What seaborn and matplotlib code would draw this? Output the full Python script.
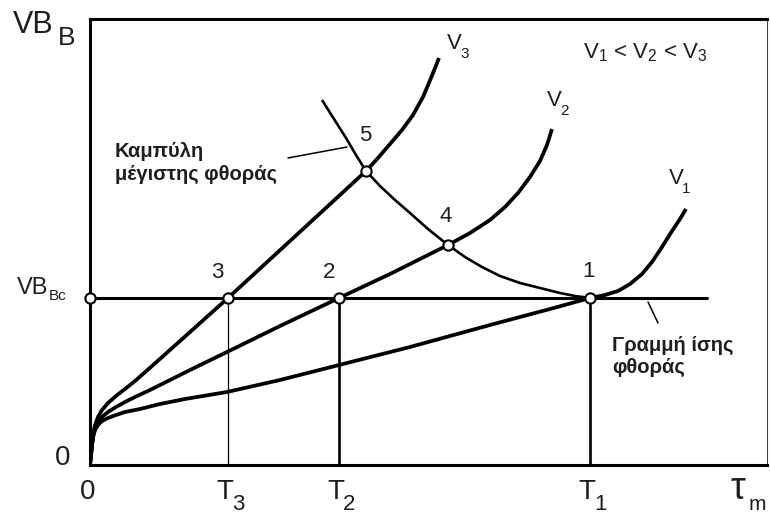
import matplotlib
matplotlib.use("Agg")
import matplotlib.pyplot as plt
import seaborn as sns

# Flank-wear growth VB_B versus machining time for three cutting speeds
v1_t = [0, 1, 2, 3, 5, 8, 12, 18, 26, 35, 50, 70, 95, 137, 190, 249, 320, 400, 460,
        500, 515, 528, 540, 552, 562, 572, 582, 590, 596]
v1_w = [0, 10, 20, 28, 35, 40, 44, 47, 50, 53, 56, 61, 66, 73, 85, 100, 118, 140, 156,
        167, 170, 174, 181, 191, 203, 218, 234, 246, 256]

v2_t = [0, 1, 2, 3, 5, 8, 12, 18, 26, 35, 45, 60, 80, 100, 137, 190, 249, 300, 358,
        380, 400, 415, 428, 440, 450, 457, 462]
v2_w = [0, 10, 20, 28, 36, 43, 48, 53, 58, 63, 68, 75, 85, 95, 113, 139, 167, 191, 220,
        232, 245, 258, 272, 288, 304, 320, 336]

v3_t = [0, 1, 2, 3, 5, 8, 12, 18, 26, 35, 45, 62, 90, 138, 200, 276, 288, 300, 312,
        323, 333, 341, 349]
v3_w = [0, 10, 20, 30, 40, 48, 55, 62, 69, 76, 84, 99, 124, 167, 224, 294, 307, 321, 335,
        350, 368, 387, 407]

# curve of maximum wear (through the points 5, 4, 1)
mw_t = [232, 244, 256, 266, 276, 290, 305, 320, 338, 358, 375, 392, 410, 430, 450, 470,
        485, 500]
mw_w = [365, 346, 327, 310, 294, 279, 265, 252, 236, 220, 208, 198, 189, 182, 177, 172,
        169, 167]

# admissible wear level and the tool lives T1, T2, T3
vb_bc = 167
tool_life = {"T1": 500, "T2": 249, "T3": 138}
equal_wear_end = 617

# marked points 1..5
pt_labels = ["1", "2", "3", "4", "5"]
pt_t = [500, 249, 138, 358, 276]
pt_w = [167, 167, 167, 220, 294]

X_MAX, Y_MAX = 677, 446
INK = "#1e1e1e"

sns.set_theme(style="white")
plt.rcParams["font.family"] = ["Liberation Sans", "DejaVu Sans"]
plt.rcParams["mathtext.fontset"] = "custom"
plt.rcParams["mathtext.rm"] = "Liberation Sans"
plt.rcParams["mathtext.it"] = "Liberation Sans"
plt.rcParams["mathtext.bf"] = "Liberation Sans:bold"

fig = plt.figure(figsize=(7.7, 5.17), dpi=100)
ax = fig.add_axes([90 / 770, 52 / 517, X_MAX / 770, Y_MAX / 517])
ax.set_xlim(0, X_MAX)
ax.set_ylim(0, Y_MAX)
ax.set_xticks([])
ax.set_yticks([])

for side in ["left", "top", "bottom"]:
    ax.spines[side].set_linewidth(2.2)
    ax.spines[side].set_color("black")
ax.spines["right"].set_linewidth(0.8)
ax.spines["right"].set_color("#444444")


def draw(tt, ww, lw, **kw):
    sns.lineplot(x=tt, y=ww, color="black", lw=lw, ax=ax, sort=False,
                 estimator=None, **kw)


# equal-wear line and the vertical drops to the time axis
draw([0, equal_wear_end], [vb_bc, vb_bc], 2.2)
draw([0, 0], [0, vb_bc], 2.6)
for name, t in tool_life.items():
    draw([t, t], [0, vb_bc], 0.9 if name == "T3" else 1.9)

# wear curves
for tt, ww in [(v1_t, v1_w), (v2_t, v2_w), (v3_t, v3_w)]:
    draw(tt, ww, 2.7, solid_capstyle="butt", solid_joinstyle="round")
draw(mw_t, mw_w, 1.9, solid_capstyle="butt", solid_joinstyle="round")

# open circles at the intersections
sns.scatterplot(x=pt_t + [0], y=pt_w + [vb_bc], s=55, facecolor="white",
                edgecolor="black", linewidth=1.5, ax=ax, zorder=5, clip_on=False)

num_off = [(-2, 26), (-10, 25), (-11, 25), (-2, 28), (-1, 35)]
for lab, t, w, (dx, dy) in zip(pt_labels, pt_t, pt_w, num_off):
    ax.text(t + dx, w + dy, lab, fontsize=16, color=INK, ha="center", va="center")


def sub_text(x, y, main, sub, size, sub_size, dx, dy, **kw):
    """Main text with a subscript attached to its lower-right corner."""
    t = ax.text(x, y, main, fontsize=size, color=INK, ha="center", va="center",
                clip_on=False, **kw)
    ax.annotate(sub, xy=(1, 0), xycoords=t, xytext=(dx, dy),
                textcoords="offset points", fontsize=sub_size, color=INK,
                ha="left", va="bottom", annotation_clip=False, **kw)
    return t


# axis titles
sub_text(-57, 440, "VB", "B", 22, 19, 3, -7)
sub_text(-57, 177, "VB", "Bc", 17, 11, 0, -3)
ax.text(648, -24, "τ", fontsize=27, color=INK, ha="center", va="center",
        clip_on=False)
ax.text(667, -39, "m", fontsize=15, color=INK, ha="center", va="center",
        clip_on=False)

# axis tick labels
ax.text(-27, 7, "0", fontsize=20, color=INK, ha="center", va="center", clip_on=False)
ax.text(-2, -27, "0", fontsize=20, color=INK, ha="center", va="center", clip_on=False)
for name, t in tool_life.items():
    sub_text(t - 3, -27, "T", name[1], 20, 16, -1, -7)

# speed labels at the curve ends
sub_text(v3_t[-1] + 15, v3_w[-1] + 14, "V", "3", 16, 11, -1, -5)
sub_text(v2_t[-1] + 2, v2_w[-1] + 28, "V", "2", 16, 11, -1, -5)
sub_text(v1_t[-1] - 10, v1_w[-1] + 30, "V", "1", 16, 11, -1, -5)
ax.text(555, 412, r"V$_1$ < V$_2$ < V$_3$", fontsize=16, color=INK,
        ha="center", va="center")

# annotation labels with leader lines
ax.text(25, 313, "Καμπύλη", fontsize=14.5, fontweight="bold", color=INK,
        ha="left", va="center")
ax.text(25, 291, "μέγιστης φθοράς", fontsize=14.5, fontweight="bold", color=INK,
        ha="left", va="center")
ax.plot([198, 257], [307, 318], color="black", lw=1.1)

ax.text(522, 120, "Γραμμή ίσης", fontsize=14.5, fontweight="bold", color=INK,
        ha="left", va="center")
ax.text(522, 98, "φθοράς", fontsize=14.5, fontweight="bold", color=INK,
        ha="left", va="center")
ax.plot([558, 568], [163, 142], color="black", lw=1.1)

fig.savefig("out.png", dpi=100)
